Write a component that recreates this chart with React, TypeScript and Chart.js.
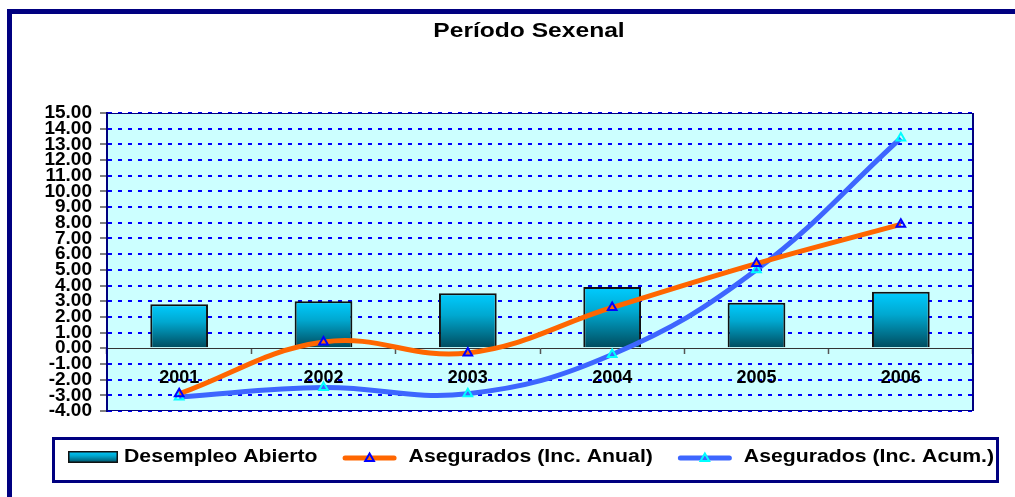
import React, { useEffect, useRef } from 'react';
import { Chart, registerables } from 'chart.js';

Chart.register(...registerables);

const categories = ['2001', '2002', '2003', '2004', '2005', '2006'];
const desempleoAbierto = [2.8, 3.0, 3.5, 3.9, 2.9, 3.6];
const aseguradosAnual = [-2.9, 0.4, -0.3, 2.6, 5.4, 7.9];
const aseguradosAcum = [-3.1, -2.5, -2.9, -0.4, 5.0, 13.4];
const seriesLabels = ['Desempleo Abierto', 'Asegurados (Inc. Anual)', 'Asegurados (Inc. Acum.)'];
const titleText = 'Período Sexenal';
const yMin = -4;
const yMax = 15;
const yStep = 1;

const FONT = '"Liberation Sans", Arial, sans-serif';
const NAVY = '#000080';
const ORANGE = '#FF6600';
const BLUE = '#3D66FF';
const BAR_TOP = '#00CCFF';
const BAR_MID = '#00A8D0';
const BAR_BOT = '#004A5C';

function barGradient(ctx: CanvasRenderingContext2D, top: number, bottom: number) {
  const g = ctx.createLinearGradient(0, top, 0, bottom);
  g.addColorStop(0, BAR_TOP);
  g.addColorStop(0.4, BAR_MID);
  g.addColorStop(1, BAR_BOT);
  return g;
}

function triangle(ctx: CanvasRenderingContext2D, x: number, y: number, r: number, color: string) {
  ctx.save();
  ctx.beginPath();
  let rad = 0;
  ctx.moveTo(x + Math.sin(rad) * r, y - Math.cos(rad) * r);
  rad += (2 * Math.PI) / 3;
  ctx.lineTo(x + Math.sin(rad) * r, y - Math.cos(rad) * r);
  rad += (2 * Math.PI) / 3;
  ctx.lineTo(x + Math.sin(rad) * r, y - Math.cos(rad) * r);
  ctx.closePath();
  ctx.lineWidth = 2;
  ctx.strokeStyle = color;
  ctx.stroke();
  ctx.restore();
}

// draws text stretched horizontally (the reference uses a wide rendering of Arial)
function stretchedText(ctx: CanvasRenderingContext2D, text: string, x: number, y: number, sx: number, align: CanvasTextAlign) {
  ctx.save();
  ctx.translate(x, y);
  ctx.scale(sx, 1);
  ctx.textAlign = align;
  ctx.textBaseline = 'middle';
  ctx.fillText(text, 0, 0);
  ctx.restore();
  return ctx.measureText(text).width * sx;
}

const decorPlugin = {
  id: 'decor',
  beforeDraw(chart: any) {
    const { ctx, chartArea: a } = chart;
    ctx.save();
    ctx.fillStyle = '#FFFFFF';
    ctx.fillRect(0, 0, chart.width, chart.height);
    ctx.fillStyle = '#CCFFFF';
    ctx.fillRect(a.left, a.top, a.right - a.left, a.bottom - a.top);
    ctx.restore();
  },
  beforeDatasetsDraw(chart: any) {
    const { ctx, chartArea: a } = chart;
    ctx.save();
    ctx.strokeStyle = NAVY;
    ctx.lineWidth = 1;
    ctx.beginPath();
    ctx.moveTo(a.left, a.top + 0.5);
    ctx.lineTo(a.right, a.top + 0.5);
    ctx.moveTo(a.left, a.bottom - 0.5);
    ctx.lineTo(a.right, a.bottom - 0.5);
    ctx.stroke();
    ctx.lineWidth = 2;
    ctx.beginPath();
    ctx.moveTo(a.right, a.top);
    ctx.lineTo(a.right, a.bottom);
    ctx.stroke();
    ctx.restore();
  },
  afterDraw(chart: any) {
    const { ctx } = chart;
    ctx.save();
    // outer frame
    ctx.strokeStyle = NAVY;
    ctx.lineWidth = 5;
    ctx.beginPath();
    ctx.moveTo(9.5, chart.height + 5);
    ctx.lineTo(9.5, 11.5);
    ctx.lineTo(chart.width + 5, 11.5);
    ctx.stroke();

    // title
    ctx.fillStyle = '#000000';
    ctx.font = `bold 20px ${FONT}`;
    stretchedText(ctx, titleText, 529, 31, 1.23, 'center');

    // legend frame
    ctx.lineWidth = 3;
    ctx.strokeStyle = NAVY;
    ctx.strokeRect(53.5, 438.5, 944, 43);

    // legend items
    ctx.font = `bold 18px ${FONT}`;
    const cy = 457.5;
    let x = 68;
    const datasets = chart.data.datasets;
    datasets.forEach((ds: any, i: number) => {
      if (i === 0) {
        ctx.fillStyle = barGradient(ctx, 451, 463);
        ctx.fillRect(x, 451, 50, 12);
        ctx.lineWidth = 1.5;
        ctx.strokeStyle = '#111111';
        ctx.strokeRect(x + 0.75, 451.75, 48.5, 10.5);
        x += 56;
      } else {
        ctx.strokeStyle = ds.borderColor;
        ctx.lineWidth = 5;
        ctx.lineCap = 'round';
        ctx.beginPath();
        ctx.moveTo(x + 2.5, cy + 0.5);
        ctx.lineTo(x + 51.5, cy + 0.5);
        ctx.stroke();
        triangle(ctx, x + 27, cy + 1, 5, ds.pointBorderColor);
        x += 66;
      }
      ctx.fillStyle = '#000000';
      const w = stretchedText(ctx, ds.label, x, cy, 1.18, 'left');
      x += w + 25;
    });
    ctx.restore();
  },
};

export default function App() {
  const canvasRef = useRef<HTMLCanvasElement | null>(null);

  useEffect(() => {
    const canvas = canvasRef.current;
    if (!canvas) return;
    Chart.defaults.font.family = FONT;
    Chart.defaults.color = '#000000';

    const chart = new Chart(canvas, {
      type: 'bar',
      data: {
        labels: categories,
        datasets: [
          {
            type: 'bar',
            label: seriesLabels[0],
            data: desempleoAbierto,
            order: 3,
            backgroundColor: (c: any) => {
              const y = c.chart.scales?.y;
              if (!y || c.type !== 'data') return BAR_MID;
              const top = y.getPixelForValue(c.raw as number);
              const base = y.getPixelForValue(0);
              if (!isFinite(top) || !isFinite(base) || top === base) return BAR_MID;
              return barGradient(c.chart.ctx, Math.min(top, base), Math.max(top, base));
            },
            borderColor: '#111111',
            borderWidth: 2,
            barPercentage: 0.4,
            categoryPercentage: 1,
          } as any,
          {
            type: 'line',
            label: seriesLabels[1],
            data: aseguradosAnual,
            order: 1,
            borderColor: ORANGE,
            borderWidth: 5,
            tension: 0.4,
            pointStyle: 'triangle',
            pointRadius: 5,
            pointBorderWidth: 2,
            pointBorderColor: '#0000FF',
            pointBackgroundColor: 'rgba(0,0,0,0)',
          } as any,
          {
            type: 'line',
            label: seriesLabels[2],
            data: aseguradosAcum,
            order: 2,
            borderColor: BLUE,
            borderWidth: 5,
            tension: 0.4,
            pointStyle: 'triangle',
            pointRadius: 5,
            pointBorderWidth: 2,
            pointBorderColor: '#00FFFF',
            pointBackgroundColor: 'rgba(0,0,0,0)',
          } as any,
        ],
      },
      options: {
        responsive: false,
        animation: false,
        events: [],
        layout: { padding: { left: 0, right: 42, top: 113, bottom: 86 } },
        plugins: {
          legend: { display: false },
          title: { display: false },
          tooltip: { enabled: false },
        },
        scales: {
          x: {
            type: 'category',
            offset: true,
            position: { y: 0 } as any,
            grid: {
              offset: true,
              drawOnChartArea: false,
              drawTicks: true,
              tickLength: 5,
              tickColor: '#555555',
              tickWidth: 1.5,
            },
            border: { display: true, color: '#333333', width: 1 },
            ticks: {
              padding: 14,
              font: { size: 18, weight: 'bold', family: FONT },
              color: '#000000',
              autoSkip: false,
              maxRotation: 0,
            },
          },
          y: {
            type: 'linear',
            min: yMin,
            max: yMax,
            afterFit: (scale: any) => {
              scale.width = 107;
            },
            grid: {
              color: (c: any) => (c.tick && c.tick.value === 0 ? 'rgba(0,0,0,0)' : '#0000FF'),
              lineWidth: 2,
              drawTicks: true,
              tickLength: 7,
              tickColor: '#808080',
              tickWidth: 2,
            },
            border: { display: true, color: NAVY, width: 2, dash: [4, 6] },
            ticks: {
              stepSize: yStep,
              autoSkip: false,
              padding: 8,
              font: { size: 19, weight: 'bold', family: FONT, lineHeight: 1 },
              color: '#000000',
              callback: (v: any) => Number(v).toFixed(2),
            },
          },
        },
      },
      plugins: [decorPlugin],
    } as any);

    return () => {
      chart.destroy();
    };
  }, []);

  return (
    <div style={{ position: 'absolute', left: 0, top: 0, width: 1015, height: 497, background: '#fff' }}>
      <canvas ref={canvasRef} width={1015} height={497} style={{ width: 1015, height: 497, display: 'block' }} />
    </div>
  );
}
